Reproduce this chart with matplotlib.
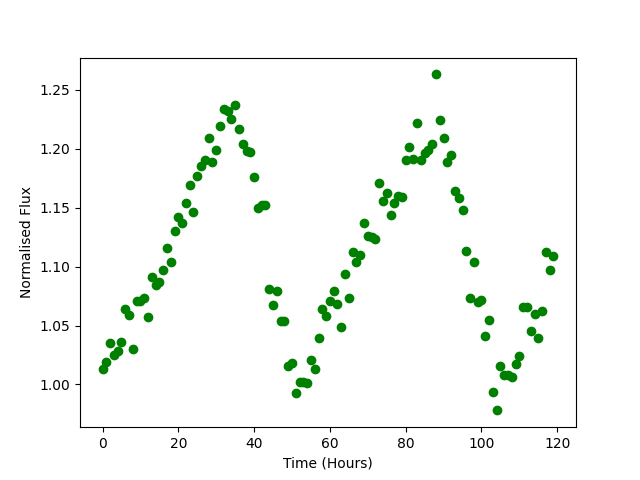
import matplotlib
matplotlib.use("Agg")
import matplotlib.pyplot as plt
import numpy as np

hours = list(range(120))
flux = [
    1.013, 1.019, 1.035, 1.025, 1.028, 1.036, 1.064, 1.059, 1.030, 1.071,
    1.071, 1.073, 1.057, 1.091, 1.084, 1.087, 1.097, 1.116, 1.104, 1.130,
    1.142, 1.137, 1.154, 1.169, 1.146, 1.177, 1.185, 1.190, 1.209, 1.189,
    1.199, 1.219, 1.234, 1.232, 1.225, 1.237, 1.217, 1.204, 1.198, 1.197,
    1.176, 1.150, 1.152, 1.152, 1.081, 1.067, 1.079, 1.054, 1.054, 1.016,
    1.018, 0.993, 1.002, 1.002, 1.001, 1.021, 1.013, 1.039, 1.064, 1.058,
    1.071, 1.079, 1.068, 1.049, 1.094, 1.073, 1.112, 1.104, 1.110, 1.137,
    1.126, 1.125, 1.123, 1.171, 1.156, 1.162, 1.144, 1.154, 1.160, 1.159,
    1.190, 1.201, 1.191, 1.222, 1.190, 1.196, 1.199, 1.204, 1.263, 1.224,
    1.209, 1.189, 1.195, 1.164, 1.158, 1.148, 1.113, 1.073, 1.104, 1.070,
    1.072, 1.041, 1.055, 0.994, 0.978, 1.016, 1.008, 1.008, 1.006, 1.017,
    1.024, 1.066, 1.066, 1.045, 1.060, 1.039, 1.062, 1.112, 1.097, 1.109,
]

fig, ax = plt.subplots(figsize=(6.4, 4.8), dpi=100)
ax.plot(hours, flux, 'o', color='green')
ax.set_xlabel('Time (Hours)')
ax.set_ylabel('Normalised Flux')
fig.savefig('out.png', dpi=100)
